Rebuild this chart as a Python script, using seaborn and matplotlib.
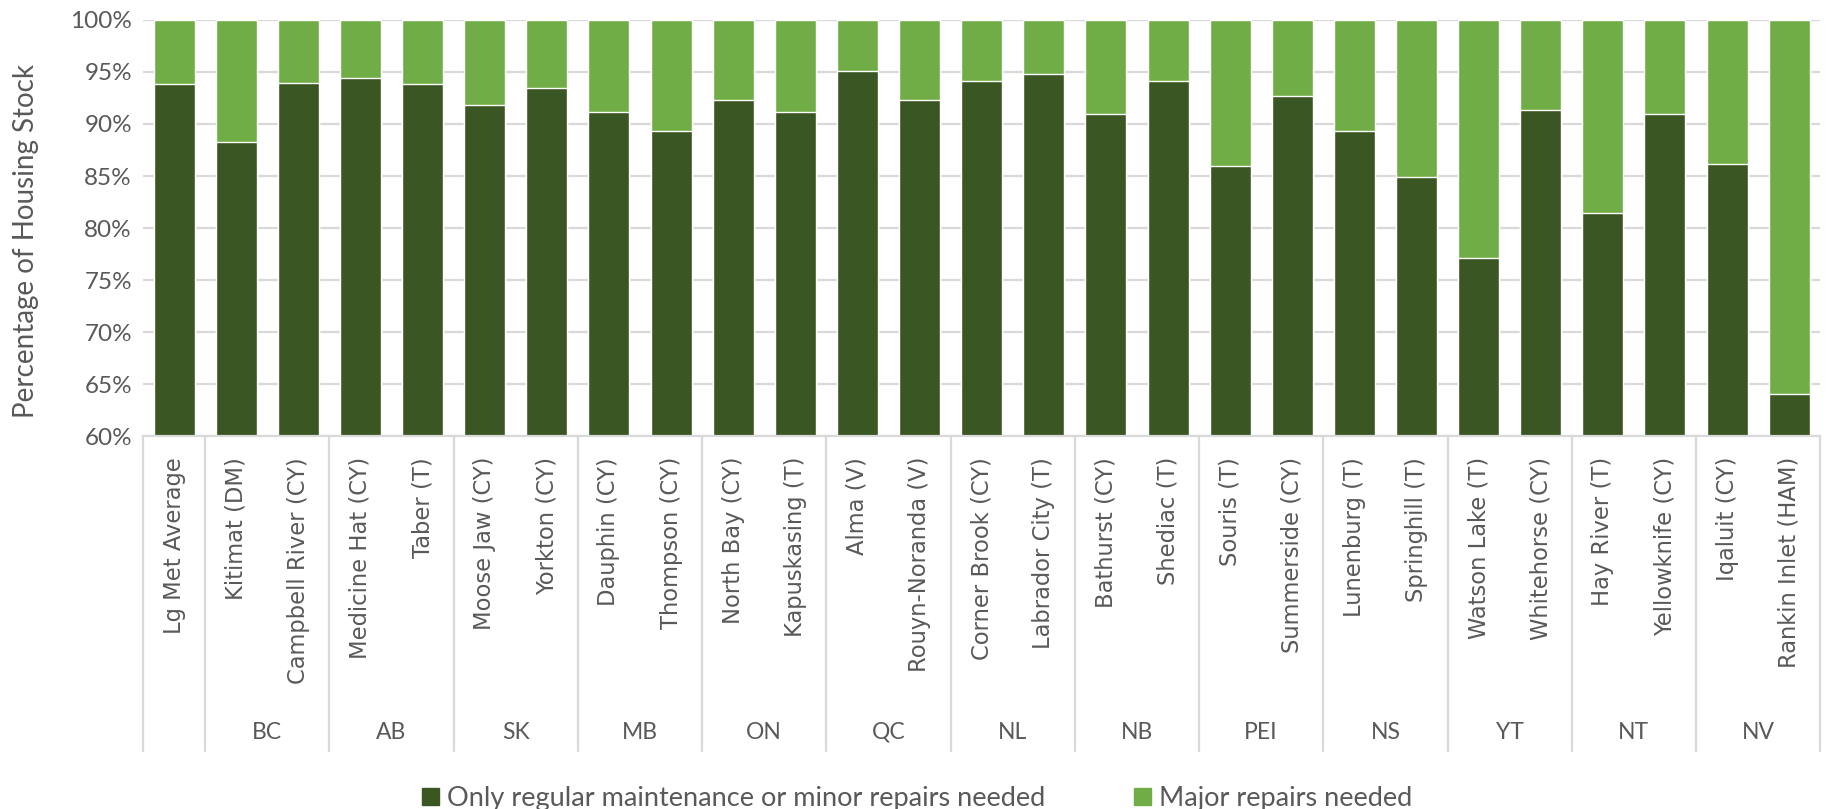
import seaborn as sns
import matplotlib.pyplot as plt
import pandas as pd
from matplotlib.patches import Patch
from matplotlib.ticker import PercentFormatter

# data
cities = ["Lg Met Average", "Kitimat (DM)", "Campbell River (CY)", "Medicine Hat (CY)", "Taber (T)",
          "Moose Jaw (CY)", "Yorkton (CY)", "Dauphin (CY)", "Thompson (CY)", "North Bay (CY)",
          "Kapuskasing (T)", "Alma (V)", "Rouyn-Noranda (V)", "Corner Brook (CY)", "Labrador City (T)",
          "Bathurst (CY)", "Shediac (T)", "Souris (T)", "Summerside (CY)", "Lunenburg (T)",
          "Springhill (T)", "Watson Lake (T)", "Whitehorse (CY)", "Hay River (T)", "Yellowknife (CY)",
          "Iqaluit (CY)", "Rankin Inlet (HAM)"]
provinces = ["", "BC", "AB", "SK", "MB", "ON", "QC", "NL", "NB", "PEI", "NS", "YT", "NT", "NV"]
group_sizes = [1, 2, 2, 2, 2, 2, 2, 2, 2, 2, 2, 2, 2, 2]
minor = [93.8, 88.3, 93.9, 94.4, 93.8, 91.8, 93.5, 91.2, 89.3, 92.3,
         91.2, 95.1, 92.3, 94.1, 94.8, 91.0, 94.1, 86.0, 92.7, 89.3,
         84.9, 77.1, 91.3, 81.4, 91.0, 86.2, 64.0]
major = [100 - v for v in minor]

dark = "#3a5723"
light = "#70ad47"
grey = "#595959"
line = "#d9d9d9"

df = pd.DataFrame({"city": cities, "minor": minor, "major": major})
df["total"] = df["minor"] + df["major"]

sns.set_style("white")
plt.rcParams["font.family"] = ["Lato", "DejaVu Sans"]

fig = plt.figure(figsize=(18.27, 8.09), dpi=100)
ax = fig.add_axes([0.0783, 0.461, 0.918, 0.5143])

sns.barplot(data=df, x="city", y="total", color=light, width=0.66, saturation=1, ax=ax)
sns.barplot(data=df, x="city", y="minor", color=dark, width=0.66, saturation=1, ax=ax)

ax.set_ylim(60, 100)
ax.set_xlim(-0.5, len(cities) - 0.5)
ax.set_yticks(range(60, 101, 5))
ax.yaxis.set_major_formatter(PercentFormatter(decimals=0))
ax.yaxis.grid(True, color=line, lw=1.6)
ax.set_axisbelow(True)
for s in ["left", "right", "top"]:
    ax.spines[s].set_visible(False)
ax.spines["bottom"].set_color(line)
ax.spines["bottom"].set_linewidth(1.6)
ax.tick_params(axis="y", length=0, labelsize=17.5, labelcolor=grey, pad=8)
ax.tick_params(axis="x", length=0, pad=15)
ax.set_xticks(range(len(cities)))
ax.set_xticklabels(cities, rotation=90, fontsize=16.3, color=grey, family="DejaVu Sans", va="top")
ax.set_xlabel("")
ax.set_ylabel("Percentage of Housing Stock", fontsize=20, color=grey)
ax.yaxis.set_label_coords(-0.062, 0.47)

# second level of the category axis
trans = ax.get_xaxis_transform()
start = -0.5
ax.plot([start, start], [0, -0.757], transform=trans, color=line, lw=1.6, clip_on=False)
for name, n in zip(provinces, group_sizes):
    end = start + n
    ax.plot([end, end], [0, -0.757], transform=trans, color=line, lw=1.6, clip_on=False)
    ax.text((start + end) / 2, -0.712, name, transform=trans, ha="center", va="center",
            fontsize=16.5, color=grey)
    start = end

handles = [Patch(color=dark, label="Only regular maintenance or minor repairs needed"),
           Patch(color=light, label="Major repairs needed")]
fig.legend(handles=handles, loc="center", bbox_to_anchor=(0.502, 0.013), ncol=2,
           frameon=False, fontsize=19.5, labelcolor=grey, handlelength=0.6, handleheight=0.6,
           handletextpad=0.3, columnspacing=3.3, borderpad=0)

fig.savefig("out.png", dpi=100)
